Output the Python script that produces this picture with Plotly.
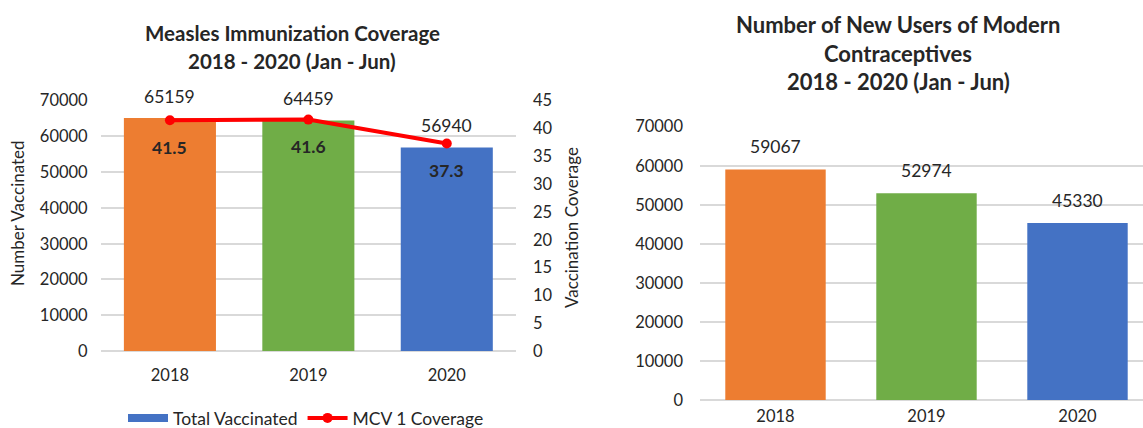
import plotly.graph_objects as go

# ---------------- data ----------------
years = ["2018", "2019", "2020"]
total_vaccinated = [65159, 64459, 56940]
mcv1_coverage = [41.5, 41.6, 37.3]
new_users_contraceptives = [59067, 52974, 45330]
bar_colors = ["#ED7D31", "#70AD47", "#4472C4"]

left_title = ["Measles Immunization Coverage", "2018 - 2020 (Jan - Jun)"]
right_title = ["Number of New Users of Modern", "Contraceptives", "2018 - 2020 (Jan - Jun)"]

# ---------------- layout helpers ----------------
W, H = 1143, 428
FONT = "Lato, Carlito, Calibri, 'Noto Sans', sans-serif"
TXT = "#262626"
GRID = "#d9d9d9"


def px_x(px):
    return px / W


def px_y(py):
    return (H - py) / H


fig = go.Figure()

fig.add_trace(go.Bar(
    x=years, y=total_vaccinated, marker=dict(color=bar_colors, line=dict(width=0)),
    name="Total Vaccinated", showlegend=False, xaxis="x", yaxis="y",
))
fig.add_trace(go.Scatter(
    x=[None], y=[None], mode="lines", line=dict(color="#4472C4", width=8),
    name="Total Vaccinated", xaxis="x", yaxis="y", showlegend=True,
))
fig.add_trace(go.Scatter(
    x=years, y=mcv1_coverage, mode="lines+markers", name="MCV 1 Coverage",
    line=dict(color="#FF0000", width=4), marker=dict(color="#FF0000", size=10),
    xaxis="x", yaxis="y2",
))
fig.add_trace(go.Bar(
    x=years, y=new_users_contraceptives, marker=dict(color=bar_colors, line=dict(width=0)),
    name="New Users", showlegend=False, xaxis="x3", yaxis="y3",
))

LBL = 17.5
annotations = []
for i, v in enumerate(total_vaccinated):
    annotations.append(dict(x=i, y=v, xref="x", yref="y", text=str(v), showarrow=False,
                            yshift=22, yanchor="middle",
                            font=dict(family=FONT, size=LBL, color=TXT)))
for i, v in enumerate(mcv1_coverage):
    annotations.append(dict(x=i, y=v, xref="x", yref="y2", text=f"<b>{v}</b>", showarrow=False,
                            yshift=-27, yanchor="middle",
                            font=dict(family=FONT, size=LBL, color=TXT)))
for i, v in enumerate(new_users_contraceptives):
    annotations.append(dict(x=i, y=v, xref="x3", yref="y3", text=str(v), showarrow=False,
                            yshift=23, yanchor="middle",
                            font=dict(family=FONT, size=LBL, color=TXT)))
for txt, ypix in zip(left_title, [33, 61]):
    annotations.append(dict(x=px_x(292), y=px_y(ypix), xref="paper", yref="paper", text=f"<b>{txt}</b>",
                            showarrow=False, xanchor="center", yanchor="middle",
                            font=dict(family=FONT, size=20.5, color=TXT)))
for txt, ypix in zip(right_title, [24, 53, 82]):
    annotations.append(dict(x=px_x(898), y=px_y(ypix), xref="paper", yref="paper", text=f"<b>{txt}</b>",
                            showarrow=False, xanchor="center", yanchor="middle",
                            font=dict(family=FONT, size=22, color=TXT)))
annotations.append(dict(x=px_x(17), y=px_y(213), xref="paper", yref="paper", text="Number Vaccinated",
                        showarrow=False, textangle=-90, xanchor="center", yanchor="middle",
                        font=dict(family=FONT, size=17, color=TXT)))
annotations.append(dict(x=px_x(572), y=px_y(228), xref="paper", yref="paper", text="Vaccination Coverage",
                        showarrow=False, textangle=-90, xanchor="center", yanchor="middle",
                        font=dict(family=FONT, size=17, color=TXT)))

tickfont = dict(family=FONT, size=16.5, color=TXT)
right_range_max = -0.5 + (W - 700) / 151.0

fig.update_layout(
    width=W, height=H,
    margin=dict(l=0, r=0, t=0, b=0, autoexpand=False),
    paper_bgcolor="white", plot_bgcolor="white",
    bargap=0.335,
    font=dict(family=FONT, color=TXT),
    showlegend=True,
    legend=dict(orientation="h", x=px_x(306), y=px_y(418), xanchor="center", yanchor="middle",
                font=dict(family=FONT, size=17.5, color=TXT), bgcolor="rgba(0,0,0,0)",
                itemwidth=40, tracegroupgap=0),
    xaxis=dict(domain=[px_x(100.7), px_x(516)], type="category", range=[-0.5, 2.5],
               showgrid=False, showline=False, zeroline=False, ticks="",
               tickfont=tickfont, ticklabelstandoff=12, anchor="y"),
    yaxis=dict(domain=[px_y(351), px_y(100.7)], range=[0, 70000], dtick=10000,
               showgrid=True, gridcolor=GRID, gridwidth=1.5, zeroline=True, zerolinecolor=GRID,
               zerolinewidth=1.5, showline=False, tickfont=tickfont, tickformat="d",
               ticklabelstandoff=12, anchor="x"),
    yaxis2=dict(overlaying="y", side="right", range=[0, 45], dtick=5, showgrid=False,
                zeroline=False, showline=False, tickfont=tickfont, ticklabelstandoff=16,
                anchor="x"),
    xaxis3=dict(domain=[px_x(700), 1.0], type="category", range=[-0.5, right_range_max],
                showgrid=False, showline=False, zeroline=False, ticks="",
                tickfont=tickfont, ticklabelstandoff=4, anchor="y3"),
    yaxis3=dict(domain=[px_y(400), px_y(126.7)], range=[0, 70000], dtick=10000,
                showgrid=True, gridcolor=GRID, gridwidth=1.5, zeroline=True, zerolinecolor=GRID,
                zerolinewidth=1.5, showline=False, tickfont=tickfont, tickformat="d",
                ticklabelstandoff=16, anchor="x3"),
    annotations=annotations,
)

fig.write_html("out.html", config={"displayModeBar": False},
               post_script="document.body.style.margin='0';document.body.style.overflow='hidden';")
